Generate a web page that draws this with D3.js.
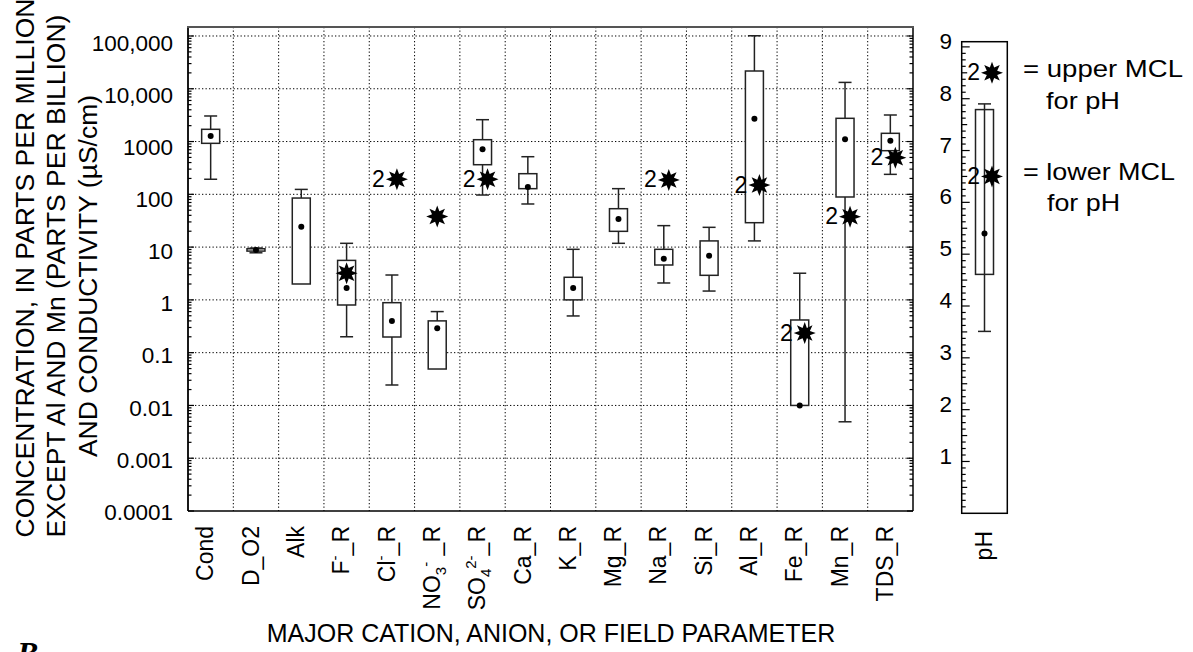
<!DOCTYPE html>
<html><head><meta charset="utf-8">
<script src="https://cdn.jsdelivr.net/npm/d3@7"></script>
<style>
html,body{margin:0;padding:0;background:#fff;}
svg{display:block;}
text{font-family:"Liberation Sans",Arial,Helvetica,sans-serif;fill:#000;}
</style></head>
<body>
<svg id="chart" width="1193" height="652"></svg>
<script>
// ---------------- DATA ----------------
const categories = ["Cond","D_O2","Alk","F_R","Cl_R","NO3_R","SO4_R","Ca_R","K_R","Mg_R","Na_R","Si_R","Al_R","Fe_R","Mn_R","TDS_R"];
const xTickLabels = [
  [["Cond"]],
  [["D_O2"]],
  [["Alk"]],
  [["F"],["-","sup"],["_R"]],
  [["Cl"],["-","sup"],["_R"]],
  [["NO"],["3","sub"],["-","sup"],[" _R"]],
  [["SO"],["4","sub"],["2-","sup"],["_R"]],
  [["Ca_R"]],[["K_R"]],[["Mg_R"]],[["Na_R"]],[["Si_R"]],[["Al_R"]],[["Fe_R"]],[["Mn_R"]],[["TDS_R"]]
];
const whiskerLow  = [193, 7.8, null, 0.20, 0.0244, null, 97, 65.6, 0.496, 11.8, 2.09, 1.47, 13.1, null, 0.0049, 239];
const quartile1   = [925, 8.4, 2.0, 0.80, 0.198, 0.049, 364, 128, 1.0, 19.9, 4.58, 2.92, 29, 0.01, 89, 671];
const medians     = [1274, 8.8, 24.4, 1.68, 0.40, 0.289, 713, 138, 1.68, 34, 6.04, 6.87, 2710, 0.01, 1102, 1038];
const quartile3   = [1706, 9.3, 85, 5.6, 0.885, 0.40, 1084, 246, 2.68, 53.4, 9.08, 13.1, 21700, 0.416, 2755, 1432];
const whiskerHigh = [3050, 9.6, 124, 11.8, 2.96, 0.60, 2594, 516, 9.08, 128, 25.5, 23.7, 101000, 3.2, 13200, 3184];
const mclValues   = [null, null, null, 3.2, 193, 38, 193, null, null, null, 187, null, 150, 0.235, 37.7, 494];
const mclLabels   = [null, null, null, null, "2", null, "2", null, null, null, "2", null, "2", "2", "2", "2"];

const yTickValues = [1e-4,1e-3,1e-2,1e-1,1,10,100,1000,10000,100000];
const yTickLabels = ["0.0001","0.001","0.01","0.1","1","10","100","1000","10,000","100,000"];

const phStats = {low:3.51, q1:4.61, median:5.40, q3:7.79, high:7.90};
const phMcl = [8.5, 6.5];
const phMclLabels = ["2","2"];
const phTickValues = [1,2,3,4,5,6,7,8,9];

const yTitleLines = ["CONCENTRATION, IN PARTS PER MILLION","EXCEPT Al AND Mn (PARTS PER BILLION)","AND CONDUCTIVITY (\u00B5S/cm)"];
const xTitle = "MAJOR CATION, ANION, OR FIELD PARAMETER";
const legendLines = ["= upper MCL","for pH","= lower MCL","for pH"];

// ---------------- DRAW ----------------
const svg = d3.select("#chart");
const L=188, R=913, T=27, B=511;
const x = d3.scaleBand().domain(categories).range([L,R]);
const y = d3.scaleLog().domain([1e-4,1.48e5]).range([B,T]);
const yLab = d3.scaleLog().domain([1e-4,1e5]).range([511.7,42.5]);
const bw = x.bandwidth();
const cx = d => x(d)+bw/2;
const boxW = 18, capW = 13;
const ink = "#222";

// grid
const g = svg.append("g");
g.selectAll(".hg").data(yTickValues.filter(v=>v>1e-4)).join("line")
  .attr("x1",L).attr("x2",R).attr("y1",d=>y(d)).attr("y2",d=>y(d))
  .attr("stroke","#000").attr("stroke-width",1).attr("stroke-dasharray","1.3,2.2");
g.selectAll(".vg").data(categories.slice(1)).join("line")
  .attr("x1",d=>x(d)).attr("x2",d=>x(d)).attr("y1",T).attr("y2",B)
  .attr("stroke","#000").attr("stroke-width",1).attr("stroke-dasharray","1.3,2.2");

// log ticks inside left & right
const allTicks = y.ticks();
const isMajor = v => Math.abs(Math.log10(v)-Math.round(Math.log10(v)))<1e-9;
[L,R].forEach((edge,i)=>{
  const dir = i===0?1:-1;
  g.selectAll(null).data(allTicks).join("line")
    .attr("x1",edge).attr("x2",d=>edge+dir*(isMajor(d)?6:3.5))
    .attr("y1",d=>y(d)).attr("y2",d=>y(d))
    .attr("stroke","#000").attr("stroke-width",1.2);
});

// frame
g.append("line").attr("x1",L).attr("x2",R).attr("y1",B).attr("y2",B).attr("stroke","#000").attr("stroke-width",1.5);
g.append("line").attr("x1",L).attr("x2",L).attr("y1",T).attr("y2",B).attr("stroke","#000").attr("stroke-width",1.8);
g.append("line").attr("x1",R).attr("x2",R).attr("y1",T).attr("y2",B).attr("stroke","#000").attr("stroke-width",1.5);
g.append("line").attr("x1",L-1).attr("x2",R+1).attr("y1",T).attr("y2",T).attr("stroke","#555").attr("stroke-width",2.2);

// y tick labels
svg.selectAll(".yl").data(yTickValues).join("text")
  .attr("x",173).attr("y",d=>yLab(d)).attr("dy","0.36em")
  .attr("text-anchor","end").attr("font-size",22.5)
  .text((d,i)=>yTickLabels[i]);

// boxes
const bx = svg.append("g");
categories.forEach((c,i)=>{
  const X = cx(c);
  const lo = whiskerLow[i], hi = whiskerHigh[i], q1 = quartile1[i], q3 = quartile3[i];
  if (hi!=null && hi>q3){
    bx.append("line").attr("x1",X).attr("x2",X).attr("y1",y(q3)).attr("y2",y(hi)).attr("stroke",ink).attr("stroke-width",1.5);
    bx.append("line").attr("x1",X-capW/2).attr("x2",X+capW/2).attr("y1",y(hi)).attr("y2",y(hi)).attr("stroke",ink).attr("stroke-width",1.5);
  }
  if (lo!=null && lo<q1){
    bx.append("line").attr("x1",X).attr("x2",X).attr("y1",y(q1)).attr("y2",y(lo)).attr("stroke",ink).attr("stroke-width",1.5);
    bx.append("line").attr("x1",X-capW/2).attr("x2",X+capW/2).attr("y1",y(lo)).attr("y2",y(lo)).attr("stroke",ink).attr("stroke-width",1.5);
  }
  bx.append("rect").attr("x",X-boxW/2).attr("width",boxW)
    .attr("y",y(q3)).attr("height",Math.max(1,y(q1)-y(q3)))
    .attr("fill","#fff").attr("stroke",ink).attr("stroke-width",1.5);
  bx.append("circle").attr("cx",X).attr("cy",y(medians[i])).attr("r",3).attr("fill","#000");
});

// star shape
const starPts = d3.range(16).map(k=>[k*Math.PI/8, k%2===0?11:5.6]);
const starPath = d3.lineRadial().curve(d3.curveLinearClosed)(starPts);
function star(sel, X, Y, lab){
  const off = lab ? 5 : 0;
  sel.append("path").attr("d",starPath).attr("transform",`translate(${X+off},${Y})`).attr("fill","#000");
  if (lab) sel.append("text").attr("x",X+off-12).attr("y",Y+7.5).attr("text-anchor","end").attr("font-size",23).text(lab);
}
const st = svg.append("g");
categories.forEach((c,i)=>{
  if (mclValues[i]!=null) star(st, cx(c), y(mclValues[i]), mclLabels[i]);
});

// x tick labels
const xl = svg.append("g");
categories.forEach((c,i)=>{
  const t = xl.append("text").attr("transform",`translate(${cx(c)+2.7},526) rotate(-90)`)
    .attr("text-anchor","end").attr("font-size",23);
  let cur = 0;
  xTickLabels[i].forEach(seg=>{
    const target = seg[1]==="sup"?-9:(seg[1]==="sub"?6:0);
    const ts = t.append("tspan").attr("dy",target-cur).text(seg[0]);
    if (seg[1]) ts.attr("font-size",15);
    cur = target;
  });
});

// axis titles
svg.selectAll(".yt").data(yTitleLines).join("text")
  .attr("transform",(d,i)=>`translate(${[33.5,65,96.7][i]},${[268,276,276][i]}) rotate(-90)`)
  .attr("text-anchor","middle").attr("font-size",26.5).text(d=>d);
svg.append("text").attr("x",551).attr("y",641.5).attr("text-anchor","middle").attr("font-size",25).text(xTitle);

// panel letter (cut by the lower edge, as in the reference)
svg.append("text").attr("x",17).attr("y",664).attr("font-size",32).attr("font-weight","bold").attr("font-style","italic")
  .style("font-family","'Liberation Serif','Times New Roman',serif").text("B");

// ---------------- pH panel ----------------
const PL=961.7, PR=1007.3, PT=41.7, PB=513.3;
const ph = d3.scaleLinear().domain([0,9.1]).range([PB,PT]);
const pX = (PL+PR)/2;
const pg = svg.append("g");
pg.append("rect").attr("x",PL).attr("y",PT).attr("width",PR-PL).attr("height",PB-PT).attr("fill","none").attr("stroke","#000").attr("stroke-width",1.5);
const phMinor = d3.range(1,73).map(k=>k*0.125);
pg.selectAll(null).data(phMinor).join("line")
  .attr("x1",PL).attr("x2",d=>PL+(Number.isInteger(d)?8:(Number.isInteger(d*2)?5.5:4)))
  .attr("y1",d=>ph(d)).attr("y2",d=>ph(d)).attr("stroke","#000").attr("stroke-width",1.2);
pg.selectAll(null).data(phTickValues).join("text")
  .attr("x",952).attr("y",d=>ph(d)-6).attr("dy","0.36em").attr("text-anchor","end").attr("font-size",22.5).text(d=>d);
// pH box
pg.append("line").attr("x1",pX).attr("x2",pX).attr("y1",ph(phStats.low)).attr("y2",ph(phStats.high)).attr("stroke",ink).attr("stroke-width",1.5);
[phStats.low,phStats.high].forEach(v=>pg.append("line").attr("x1",pX-capW/2).attr("x2",pX+capW/2).attr("y1",ph(v)).attr("y2",ph(v)).attr("stroke",ink).attr("stroke-width",1.5));
pg.append("rect").attr("x",pX-boxW/2).attr("width",boxW).attr("y",ph(phStats.q3)).attr("height",ph(phStats.q1)-ph(phStats.q3))
  .attr("fill","none").attr("stroke",ink).attr("stroke-width",1.5);
pg.append("circle").attr("cx",pX).attr("cy",ph(phStats.median)).attr("r",3).attr("fill","#000");
phMcl.forEach((v,i)=>star(pg, pX+2.5, ph(v), phMclLabels[i]));
pg.append("text").attr("transform",`translate(${pX+7},531) rotate(-90)`).attr("text-anchor","end").attr("font-size",23).text("pH");

// legend
const legX = [1023,1046,1023,1047], legY=[77,109,180,211], legLen=[160,74,152,73];
svg.selectAll(".lg").data(legendLines).join("text")
  .attr("x",(d,i)=>legX[i]).attr("y",(d,i)=>legY[i]).attr("font-size",24)
  .attr("textLength",(d,i)=>legLen[i]).attr("lengthAdjust","spacingAndGlyphs").text(d=>d);
</script>
</body></html>
